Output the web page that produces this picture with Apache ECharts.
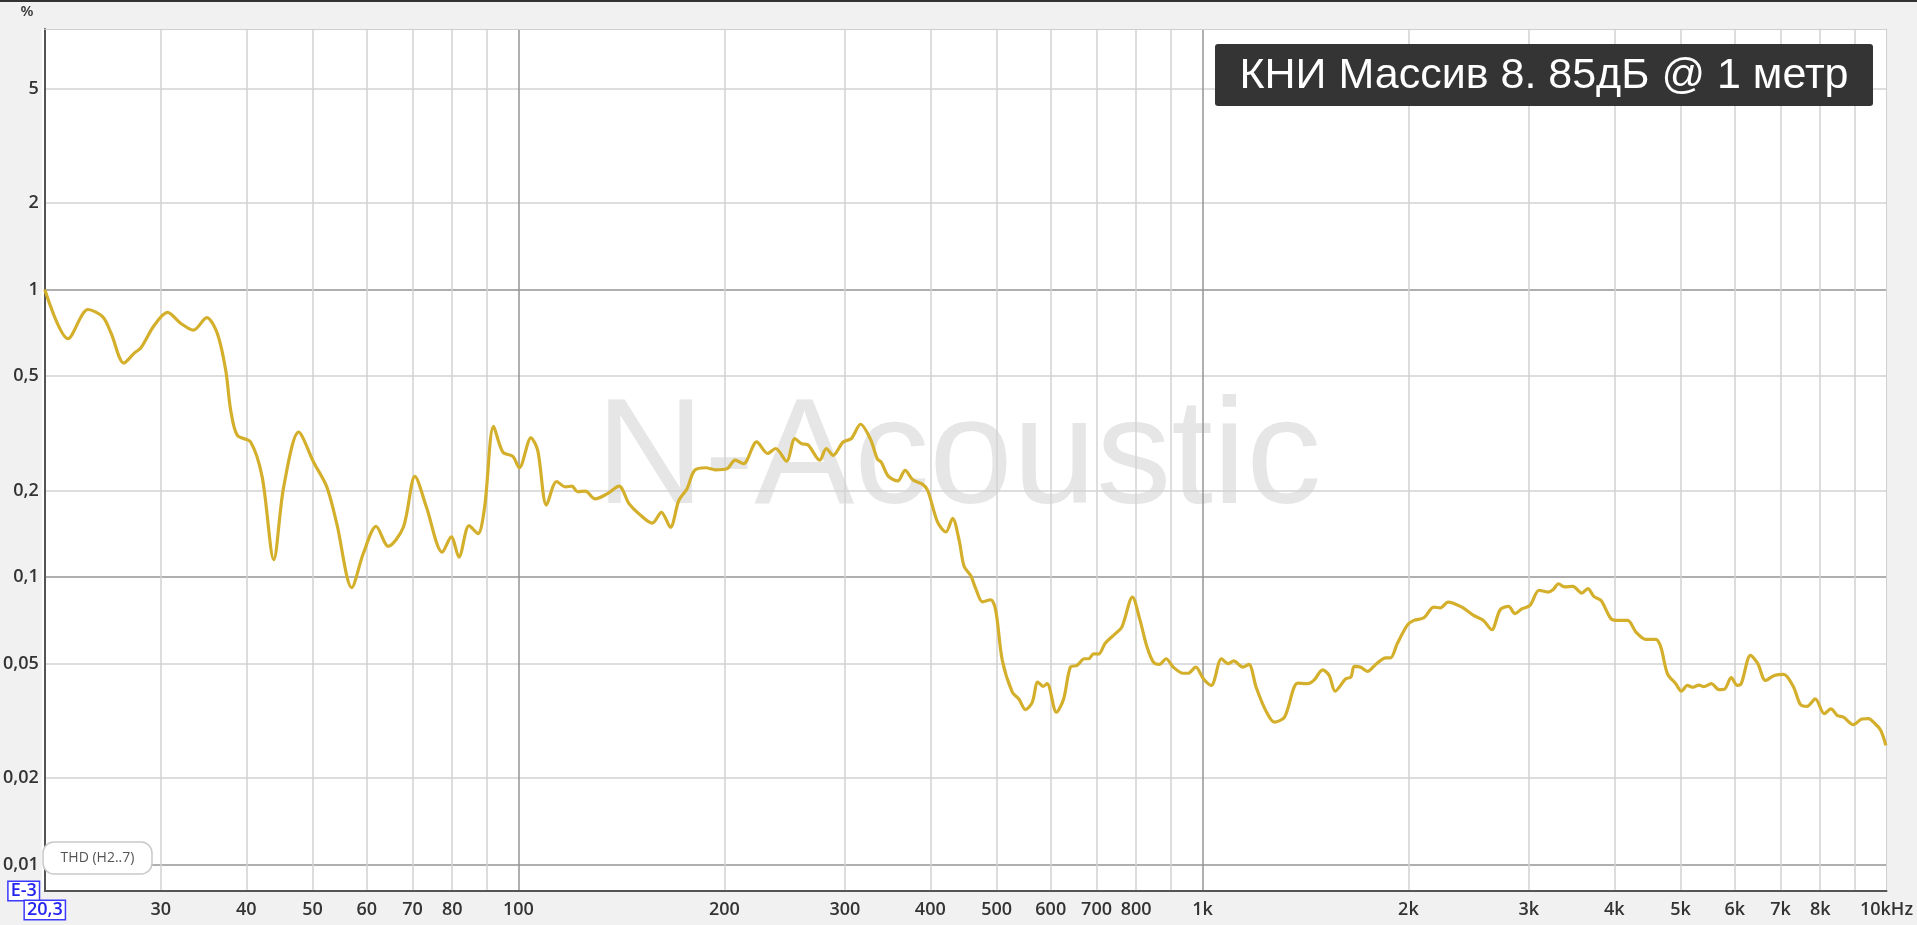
<!DOCTYPE html>
<html><head><meta charset="utf-8">
<script src="https://cdn.jsdelivr.net/npm/echarts@6/dist/echarts.min.js"></script>
<style>html,body{margin:0;padding:0;background:#f1f1f1;overflow:hidden}#c{width:1917px;height:925px}</style>
</head><body><div id="c"></div>
<script>
// ---- data ----
const freqHz = [20.3,21.96,23.48,24.68,25.39,26.49,27.46,28.07,29.35,30.69,32.1,33.48,35.02,36.29,37.33,37.96,38.81,40.59,42.2,43.88,
45.37,47.72,50.18,52.46,54.26,57.05,59.33,61.93,64.51,67.87,70.58,73.37,77.38,79.76,81.85,84.68,87.25,89.23,91.96,94.87,
98.11,100.3,104.3,106.7,109.9,113.7,117.1,119.7,122,125.2,129.4,134.9,140.3,145.1,150,156.9,161.8,166.8,171.6,176.4,
180.9,187.9,194,201.7,207.4,213.3,223,231.3,237.7,246.6,253.6,259.3,265.2,275.7,281.9,288.4,298.3,306.6,316.3,327.2,
334.6,339.1,347.5,358.6,367.5,377,389.9,396.6,410.1,421.7,431.2,440.9,448.2,458.5,466.3,476.9,490.3,498.6,509.8,527.2,
539,551.2,563.8,574.4,584.9,592.8,611.5,626.6,641,655.6,671.8,681.6,693.2,704.7,720.8,745.3,762.3,789.9,810.5,829.3,
847.8,864.9,884.6,906.5,937.1,952.8,977.7,1003,1030,1066,1090,1111,1146,1169,1198,1237,1274,1318,1378,1425,
1457,1498,1532,1563,1620,1648,1667,1703,1742,1792,1853,1884,1926,1992,2037,2107,2178,2228,2286,2395,
2491,2575,2648,2724,2802,2864,2929,3012,3105,3199,3253,3315,3382,3479,3586,3659,3733,3826,3955,4046,
4184,4302,4448,4600,4678,4784,4919,5014,5116,5202,5318,5408,5545,5689,5799,5930,6052,6133,6327,6484,
6653,6856,7074,7315,7482,7651,7868,8110,8294,8480,8651,8946,9203,9408,9623,9809,9980];
const thdPct = [1.0,0.675,0.852,0.803,0.703,0.555,0.602,0.628,0.751,0.832,0.762,0.722,0.799,0.703,0.524,0.38,0.311,0.295,0.223,0.115,
0.206,0.319,0.251,0.206,0.153,0.0919,0.121,0.15,0.128,0.149,0.224,0.175,0.122,0.138,0.1174,0.151,0.1416,0.175,0.334,0.272,
0.263,0.24,0.305,0.276,0.178,0.215,0.206,0.207,0.198,0.199,0.187,0.195,0.207,0.18,0.166,0.154,0.168,0.149,0.185,0.203,
0.235,0.24,0.236,0.238,0.255,0.248,0.295,0.269,0.28,0.253,0.303,0.291,0.288,0.255,0.28,0.265,0.295,0.303,0.34,0.301,
0.258,0.251,0.224,0.216,0.235,0.218,0.21,0.2,0.155,0.1435,0.16,0.134,0.109,0.101,0.091,0.082,0.0834,0.0766,0.0513,0.0398,
0.0377,0.0346,0.0367,0.0431,0.0417,0.0426,0.0339,0.0377,0.0486,0.0493,0.052,0.052,0.0541,0.054,0.0589,0.0635,0.067,0.0852,0.0707,0.0574,
0.0506,0.0497,0.052,0.0486,0.0463,0.0463,0.0486,0.0443,0.042,0.052,0.05,0.0511,0.0486,0.0497,0.0414,0.0344,0.0313,0.0326,0.0428,0.0426,
0.0439,0.0476,0.0455,0.0401,0.0443,0.0449,0.0489,0.0486,0.047,0.0497,0.0524,0.0524,0.0586,0.0679,0.0707,0.0722,0.0786,0.0782,0.0819,0.0786,
0.0736,0.0707,0.0656,0.077,0.0791,0.0746,0.0775,0.0797,0.09,0.0887,0.0903,0.0948,0.0924,0.0928,0.088,0.0912,0.0857,0.0829,0.0717,0.0707,
0.0707,0.0644,0.0607,0.0607,0.0571,0.0461,0.0426,0.0401,0.042,0.0414,0.0421,0.0416,0.0426,0.0406,0.0408,0.0447,0.042,0.0426,0.0534,0.05,
0.0437,0.0455,0.0459,0.0414,0.0361,0.0355,0.0377,0.0335,0.0348,0.033,0.0326,0.0307,0.0321,0.0322,0.0309,0.0293,0.026];

const X_MIN = 20.3, X_MAX = 10000;
const Y_MIN = 0.0081, Y_MAX = 8.05;
const xMinorGrid = [30,40,50,60,70,80,90,200,300,400,500,600,700,800,900,2000,3000,4000,5000,6000,7000,8000,9000];
const xMajorGrid = [100,1000];
const xLabelValues = [20.301,30,40,50,60,70,80,100,200,300,400,500,600,700,800,1000,2000,3000,4000,5000,6000,7000,8000,9999.9];
const xLabelTexts  = ['20,3','30','40','50','60','70','80','100','200','300','400','500','600','700','800','1k','2k','3k','4k','5k','6k','7k','8k','10kHz'];
const yMinorGrid = [0.02,0.05,0.2,0.5,2,5];
const yMajorGrid = [0.01,0.1,1];
const yLabelValues = [0.008101,0.01,0.02,0.05,0.1,0.2,0.5,1,2,5];
const yLabelTexts  = ['E-3','0,01','0,02','0,05','0,1','0,2','0,5','1','2','5'];

function makeFmt(values, texts){
  return function(v){
    for (let i = 0; i < values.length; i++) {
      if (Math.abs(Math.log10(v / values[i])) < 0.002) return i === 0 ? '{m|' + texts[i] + '}' : texts[i];
    }
    return '';
  };
}
const labelFont = {fontFamily:'"Open Sans"', fontSize:18, fontWeight:600, color:'#333'};
const boxRich = {m:{color:'#2424f0', fontFamily:'"Open Sans"', fontSize:18, fontWeight:600, borderColor:'#3a3aff', borderWidth:1.5, backgroundColor:'#fff', padding:[0,2,0,2]}};

const GL = 41.7, GT = 29, GR = 30.5, GB = 34;
const chart = echarts.init(document.getElementById('c'), null, {renderer:'canvas'});
chart.setOption({
  animation:false,
  backgroundColor:'#f1f1f1',
  grid:{left:GL, top:GT, right:GR, bottom:GB, show:false},
  xAxis:[
    {type:'log', logBase:10, min:X_MIN, max:X_MAX, position:'bottom',
     axisLine:{show:true, lineStyle:{color:'#555', width:2}},
     axisTick:{show:false, customValues:xMinorGrid},
     splitLine:{show:true, lineStyle:{color:'#d2d2d2', width:1.5}},
     axisLabel:Object.assign({customValues:xLabelValues, formatter:makeFmt(xLabelValues, xLabelTexts), margin:10, showMinLabel:true, showMaxLabel:true, rich:boxRich}, labelFont)},
    {type:'log', logBase:10, min:X_MIN, max:X_MAX, position:'top',
     axisLine:{show:true, lineStyle:{color:'#cfcfcf', width:1}},
     axisTick:{show:false, customValues:xMajorGrid},
     splitLine:{show:true, lineStyle:{color:'#959595', width:1.5}},
     axisLabel:{show:false}}
  ],
  yAxis:[
    {type:'log', logBase:10, min:Y_MIN, max:Y_MAX, position:'left',
     axisLine:{show:true, lineStyle:{color:'#555', width:2}},
     axisTick:{show:false, customValues:yMinorGrid},
     splitLine:{show:true, lineStyle:{color:'#d2d2d2', width:1.5}},
     axisLabel:Object.assign({customValues:yLabelValues, formatter:makeFmt(yLabelValues, yLabelTexts), margin:6, showMinLabel:true, showMaxLabel:true, rich:boxRich}, labelFont)},
    {type:'log', logBase:10, min:Y_MIN, max:Y_MAX, position:'right',
     axisLine:{show:true, lineStyle:{color:'#cfcfcf', width:1}},
     axisTick:{show:false, customValues:yMajorGrid},
     splitLine:{show:true, lineStyle:{color:'#959595', width:1.5}},
     axisLabel:{show:false}}
  ],
  graphic:[
    {type:'rect', shape:{x:GL, y:GT, width:1917-GL-GR, height:925-GT-GB}, style:{fill:'#ffffff'}, z:-10, silent:true},
    {type:'text', x:596, y:462, z:-5, silent:true,
     style:{text:'N-Acoustic', fontFamily:'"Liberation Sans"', fontSize:150, fill:'#e6e6e6', align:'left', verticalAlign:'middle'}},
    {type:'rect', shape:{x:0, y:0, width:1917, height:2}, style:{fill:'#333'}, z:20, silent:true},
    {type:'text', x:27, y:12, z:20, silent:true,
     style:{text:'%', fontFamily:'"Open Sans"', fontSize:15, fontWeight:600, fill:'#333', align:'center', verticalAlign:'middle'}},
    {type:'rect', shape:{x:1215, y:44, width:658, height:62, r:3}, style:{fill:'#343434'}, z:20, silent:true},
    {type:'text', x:1544, y:76, z:21, silent:true,
     style:{text:'КНИ Массив 8. 85дБ @ 1 метр', fontFamily:'"Liberation Sans"', fontSize:43, fill:'#ffffff', align:'center', verticalAlign:'middle'}},
    {type:'rect', shape:{x:43, y:842, width:109, height:32, r:11}, style:{fill:'#ffffff', stroke:'#c9c9c9', lineWidth:1.5}, z:20, silent:true},
    {type:'text', x:97.5, y:858, z:21, silent:true,
     style:{text:'THD (H2..7)', fontFamily:'"Open Sans"', fontSize:14, fill:'#555', align:'center', verticalAlign:'middle'}}
  ],
  series:[{
    type:'line', xAxisIndex:0, yAxisIndex:0, z:5, silent:true,
    data:freqHz.map((f,i)=>[f, thdPct[i]]),
    showSymbol:false, smooth:0.3,
    lineStyle:{color:'#d4af2c', width:3.2}
  }]
});
</script></body></html>
